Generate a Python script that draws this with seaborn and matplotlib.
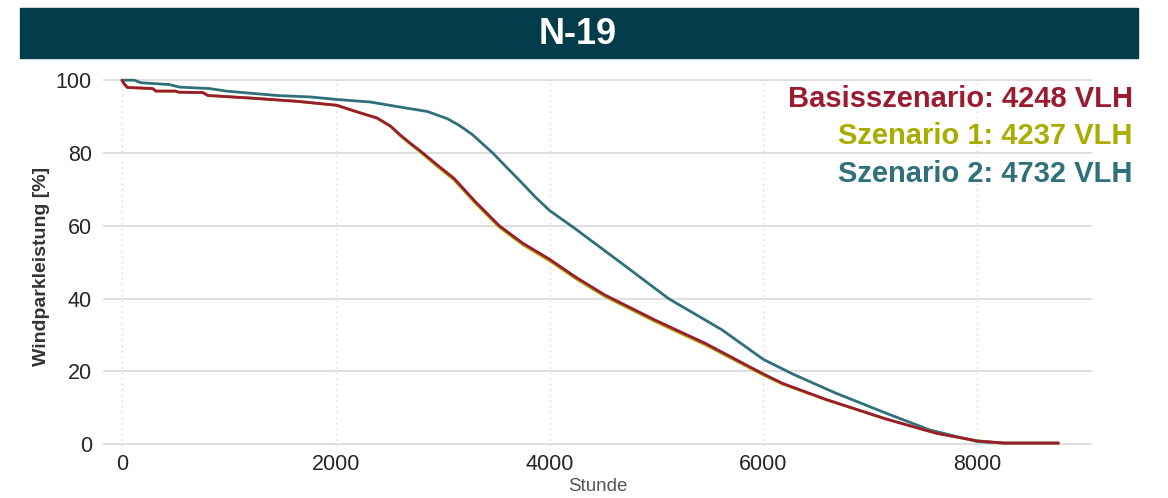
import pandas as pd
import matplotlib.pyplot as plt
import seaborn as sns
from matplotlib.patches import Rectangle

# Duration curves (Stunde -> Windparkleistung in %)
hours_base = [0, 20, 50, 286, 318, 500, 530, 756, 803, 1195, 1634, 2010, 2198,
              2386, 2512, 2605, 2700, 2794, 2950, 3107, 3300, 3530, 3750, 4000,
              4250, 4517, 4987, 5457, 5928, 6000, 6180, 6586, 7150, 7620, 8003,
              8250, 8760]
power_base = [100, 99, 98, 97.7, 97, 97, 96.7, 96.6, 95.8, 95.1, 94.2, 93.1, 91.3,
              89.6, 87.4, 84.9, 82.6, 80.5, 76.7, 73, 66.8, 60, 55.2, 50.8,
              45.8, 41, 34.1, 27.7, 20.4, 19.3, 16.7, 12.3, 6.9, 3, 0.9,
              0.3, 0.3]

hours_s1 = hours_base
power_s1 = [100, 99, 98, 97.7, 97, 97, 96.7, 96.6, 95.8, 95.1, 94.2, 93.1, 91.3,
            89.6, 87.3, 84.7, 82.4, 80.2, 76.3, 72.6, 66.4, 59.6, 54.8, 50.4,
            45.4, 40.6, 33.7, 27.3, 20.1, 19.0, 16.5, 12.2, 6.9, 3, 0.9,
            0.3, 0.3]

hours_s2 = [0, 114, 176, 443, 537, 819, 976, 1446, 1759, 2010, 2323, 2605, 2857,
            3045, 3160, 3280, 3468, 3600, 3734, 3870, 4000, 4235, 4674, 5113,
            5614, 6000, 6273, 6680, 7150, 7558, 8003, 8250, 8760]
power_s2 = [100, 100, 99.3, 98.8, 98.1, 97.7, 97.0, 95.8, 95.4, 94.7, 94.0, 92.6, 91.4,
            89.4, 87.5, 85, 80, 76, 72, 67.8, 64.2, 59.3, 49.7, 40,
            31.4, 23.3, 19.3, 14, 8.5, 3.9, 0.7, 0.3, 0.3]

labels = ["Basisszenario: 4248 VLH", "Szenario 1: 4237 VLH", "Szenario 2: 4732 VLH"]
colors = ["#9b1c31", "#a9ad00", "#2f707b"]
title = "N-19"

df = pd.concat([
    pd.DataFrame({"Stunde": hours_s2, "Leistung": power_s2, "Szenario": labels[2]}),
    pd.DataFrame({"Stunde": hours_s1, "Leistung": power_s1, "Szenario": labels[1]}),
    pd.DataFrame({"Stunde": hours_base, "Leistung": power_base, "Szenario": labels[0]}),
])

sns.set_theme(style="white")
plt.rcParams['font.family'] = ['Liberation Sans', 'DejaVu Sans']

fig = plt.figure(figsize=(11.68, 4.98), dpi=100)
ax = fig.add_axes([103 / 1168, 1 - 446 / 498, (1092 - 103) / 1168, (446 - 78) / 498])

palette = {labels[0]: colors[0], labels[1]: colors[1], labels[2]: colors[2]}
sns.lineplot(data=df, x="Stunde", y="Leistung", hue="Szenario", palette=palette,
             hue_order=[labels[2], labels[1], labels[0]],
             linewidth=2.0, legend=False, ax=ax, sort=False, estimator=None)

ax.set_xlim(-178, 9075)
ax.set_ylim(-0.5, 100.6)
ax.set_xticks([0, 2000, 4000, 6000, 8000])
ax.set_yticks([0, 20, 40, 60, 80, 100])
ax.yaxis.grid(True, color="#dcdcdc", linewidth=1.3, linestyle="-")
ax.xaxis.grid(True, color="#d8d8d8", linewidth=1.0, linestyle=(0, (1, 3)))
ax.set_axisbelow(True)
for s in ax.spines.values():
    s.set_visible(False)
ax.tick_params(axis="both", length=0, labelsize=15.5, colors="#262626", pad=6)
ax.tick_params(axis="y", pad=8)

ax.set_xlabel("Stunde", fontsize=13.5, color="#555555", labelpad=2)
ax.set_ylabel("")
fig.text(42 / 1168, 1 - 266 / 498, "Windparkleistung [%]", rotation=90,
         ha="center", va="center", fontsize=14, fontweight="bold", color="#333333")

# banner
fig.patches.append(Rectangle((20 / 1168, 1 - 58 / 498), 1118 / 1168, 50 / 498,
                             transform=fig.transFigure, color="#033c4a", zorder=0))
fig.text(578 / 1168, 1 - 34 / 498, title, ha="center", va="center",
         fontsize=26, fontweight="bold", color="white")

# legend as colored text
for lab, col, yp in zip(labels, colors, [99, 136, 174]):
    fig.text(1133 / 1168, 1 - yp / 498, lab, ha="right", va="center",
             fontsize=21, fontweight="bold", color=col)

fig.savefig("out.png", dpi=100)
